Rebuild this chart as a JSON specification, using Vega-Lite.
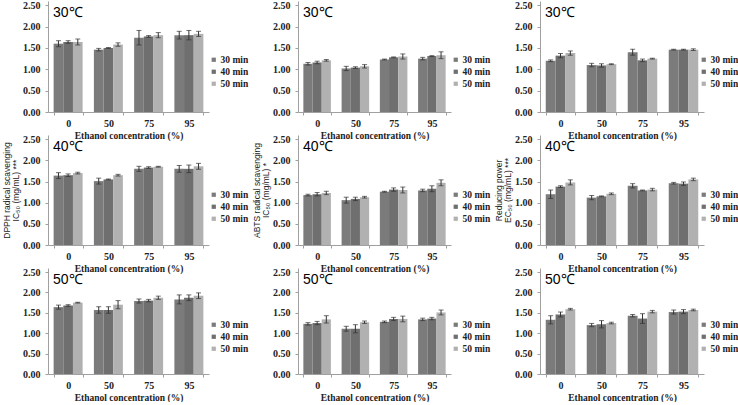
{
"$schema": "https://vega.github.io/schema/vega-lite/v6.json",
"padding": {"left": 2, "top": 0, "right": 0, "bottom": 0},
"bounds": "flush",
"columns": 3,
"spacing": {"row": 23, "column": 89},
"datasets": {"d": [
{"assay":"DPPH","temp":30,"conc":"0","time":"30 min","mean":1.60,"lo":1.53,"hi":1.67},
{"assay":"DPPH","temp":30,"conc":"0","time":"40 min","mean":1.64,"lo":1.61,"hi":1.67},
{"assay":"DPPH","temp":30,"conc":"0","time":"50 min","mean":1.64,"lo":1.57,"hi":1.71},
{"assay":"DPPH","temp":30,"conc":"50","time":"30 min","mean":1.46,"lo":1.43,"hi":1.49},
{"assay":"DPPH","temp":30,"conc":"50","time":"40 min","mean":1.50,"lo":1.49,"hi":1.51},
{"assay":"DPPH","temp":30,"conc":"50","time":"50 min","mean":1.58,"lo":1.54,"hi":1.62},
{"assay":"DPPH","temp":30,"conc":"75","time":"30 min","mean":1.74,"lo":1.57,"hi":1.91},
{"assay":"DPPH","temp":30,"conc":"75","time":"40 min","mean":1.77,"lo":1.75,"hi":1.79},
{"assay":"DPPH","temp":30,"conc":"75","time":"50 min","mean":1.80,"lo":1.74,"hi":1.86},
{"assay":"DPPH","temp":30,"conc":"95","time":"30 min","mean":1.80,"lo":1.71,"hi":1.89},
{"assay":"DPPH","temp":30,"conc":"95","time":"40 min","mean":1.80,"lo":1.69,"hi":1.91},
{"assay":"DPPH","temp":30,"conc":"95","time":"50 min","mean":1.83,"lo":1.77,"hi":1.89},
{"assay":"DPPH","temp":40,"conc":"0","time":"30 min","mean":1.64,"lo":1.57,"hi":1.71},
{"assay":"DPPH","temp":40,"conc":"0","time":"40 min","mean":1.65,"lo":1.62,"hi":1.68},
{"assay":"DPPH","temp":40,"conc":"0","time":"50 min","mean":1.70,"lo":1.68,"hi":1.72},
{"assay":"DPPH","temp":40,"conc":"50","time":"30 min","mean":1.51,"lo":1.44,"hi":1.58},
{"assay":"DPPH","temp":40,"conc":"50","time":"40 min","mean":1.55,"lo":1.54,"hi":1.56},
{"assay":"DPPH","temp":40,"conc":"50","time":"50 min","mean":1.65,"lo":1.63,"hi":1.67},
{"assay":"DPPH","temp":40,"conc":"75","time":"30 min","mean":1.80,"lo":1.74,"hi":1.86},
{"assay":"DPPH","temp":40,"conc":"75","time":"40 min","mean":1.83,"lo":1.81,"hi":1.85},
{"assay":"DPPH","temp":40,"conc":"75","time":"50 min","mean":1.85,"lo":1.84,"hi":1.86},
{"assay":"DPPH","temp":40,"conc":"95","time":"30 min","mean":1.80,"lo":1.72,"hi":1.88},
{"assay":"DPPH","temp":40,"conc":"95","time":"40 min","mean":1.80,"lo":1.71,"hi":1.89},
{"assay":"DPPH","temp":40,"conc":"95","time":"50 min","mean":1.86,"lo":1.79,"hi":1.93},
{"assay":"DPPH","temp":50,"conc":"0","time":"30 min","mean":1.64,"lo":1.59,"hi":1.69},
{"assay":"DPPH","temp":50,"conc":"0","time":"40 min","mean":1.68,"lo":1.66,"hi":1.70},
{"assay":"DPPH","temp":50,"conc":"0","time":"50 min","mean":1.75,"lo":1.74,"hi":1.76},
{"assay":"DPPH","temp":50,"conc":"50","time":"30 min","mean":1.57,"lo":1.49,"hi":1.65},
{"assay":"DPPH","temp":50,"conc":"50","time":"40 min","mean":1.57,"lo":1.49,"hi":1.65},
{"assay":"DPPH","temp":50,"conc":"50","time":"50 min","mean":1.70,"lo":1.60,"hi":1.80},
{"assay":"DPPH","temp":50,"conc":"75","time":"30 min","mean":1.79,"lo":1.74,"hi":1.84},
{"assay":"DPPH","temp":50,"conc":"75","time":"40 min","mean":1.80,"lo":1.77,"hi":1.83},
{"assay":"DPPH","temp":50,"conc":"75","time":"50 min","mean":1.87,"lo":1.83,"hi":1.91},
{"assay":"DPPH","temp":50,"conc":"95","time":"30 min","mean":1.83,"lo":1.72,"hi":1.94},
{"assay":"DPPH","temp":50,"conc":"95","time":"40 min","mean":1.87,"lo":1.80,"hi":1.94},
{"assay":"DPPH","temp":50,"conc":"95","time":"50 min","mean":1.92,"lo":1.85,"hi":1.99},
{"assay":"ABTS","temp":30,"conc":"0","time":"30 min","mean":1.13,"lo":1.10,"hi":1.16},
{"assay":"ABTS","temp":30,"conc":"0","time":"40 min","mean":1.16,"lo":1.13,"hi":1.19},
{"assay":"ABTS","temp":30,"conc":"0","time":"50 min","mean":1.21,"lo":1.19,"hi":1.23},
{"assay":"ABTS","temp":30,"conc":"50","time":"30 min","mean":1.02,"lo":0.97,"hi":1.07},
{"assay":"ABTS","temp":30,"conc":"50","time":"40 min","mean":1.04,"lo":1.02,"hi":1.06},
{"assay":"ABTS","temp":30,"conc":"50","time":"50 min","mean":1.07,"lo":1.03,"hi":1.11},
{"assay":"ABTS","temp":30,"conc":"75","time":"30 min","mean":1.23,"lo":1.22,"hi":1.24},
{"assay":"ABTS","temp":30,"conc":"75","time":"40 min","mean":1.28,"lo":1.27,"hi":1.29},
{"assay":"ABTS","temp":30,"conc":"75","time":"50 min","mean":1.30,"lo":1.24,"hi":1.36},
{"assay":"ABTS","temp":30,"conc":"95","time":"30 min","mean":1.25,"lo":1.22,"hi":1.28},
{"assay":"ABTS","temp":30,"conc":"95","time":"40 min","mean":1.31,"lo":1.30,"hi":1.32},
{"assay":"ABTS","temp":30,"conc":"95","time":"50 min","mean":1.33,"lo":1.25,"hi":1.41},
{"assay":"ABTS","temp":40,"conc":"0","time":"30 min","mean":1.18,"lo":1.16,"hi":1.20},
{"assay":"ABTS","temp":40,"conc":"0","time":"40 min","mean":1.20,"lo":1.16,"hi":1.24},
{"assay":"ABTS","temp":40,"conc":"0","time":"50 min","mean":1.23,"lo":1.19,"hi":1.27},
{"assay":"ABTS","temp":40,"conc":"50","time":"30 min","mean":1.06,"lo":0.99,"hi":1.13},
{"assay":"ABTS","temp":40,"conc":"50","time":"40 min","mean":1.09,"lo":1.05,"hi":1.13},
{"assay":"ABTS","temp":40,"conc":"50","time":"50 min","mean":1.13,"lo":1.11,"hi":1.15},
{"assay":"ABTS","temp":40,"conc":"75","time":"30 min","mean":1.26,"lo":1.25,"hi":1.27},
{"assay":"ABTS","temp":40,"conc":"75","time":"40 min","mean":1.31,"lo":1.27,"hi":1.35},
{"assay":"ABTS","temp":40,"conc":"75","time":"50 min","mean":1.30,"lo":1.23,"hi":1.37},
{"assay":"ABTS","temp":40,"conc":"95","time":"30 min","mean":1.29,"lo":1.26,"hi":1.32},
{"assay":"ABTS","temp":40,"conc":"95","time":"40 min","mean":1.33,"lo":1.26,"hi":1.40},
{"assay":"ABTS","temp":40,"conc":"95","time":"50 min","mean":1.47,"lo":1.40,"hi":1.54},
{"assay":"ABTS","temp":50,"conc":"0","time":"30 min","mean":1.23,"lo":1.20,"hi":1.26},
{"assay":"ABTS","temp":50,"conc":"0","time":"40 min","mean":1.25,"lo":1.21,"hi":1.29},
{"assay":"ABTS","temp":50,"conc":"0","time":"50 min","mean":1.34,"lo":1.25,"hi":1.43},
{"assay":"ABTS","temp":50,"conc":"50","time":"30 min","mean":1.11,"lo":1.05,"hi":1.17},
{"assay":"ABTS","temp":50,"conc":"50","time":"40 min","mean":1.11,"lo":1.01,"hi":1.21},
{"assay":"ABTS","temp":50,"conc":"50","time":"50 min","mean":1.27,"lo":1.24,"hi":1.30},
{"assay":"ABTS","temp":50,"conc":"75","time":"30 min","mean":1.28,"lo":1.26,"hi":1.30},
{"assay":"ABTS","temp":50,"conc":"75","time":"40 min","mean":1.35,"lo":1.31,"hi":1.39},
{"assay":"ABTS","temp":50,"conc":"75","time":"50 min","mean":1.35,"lo":1.28,"hi":1.42},
{"assay":"ABTS","temp":50,"conc":"95","time":"30 min","mean":1.34,"lo":1.31,"hi":1.37},
{"assay":"ABTS","temp":50,"conc":"95","time":"40 min","mean":1.36,"lo":1.33,"hi":1.39},
{"assay":"ABTS","temp":50,"conc":"95","time":"50 min","mean":1.51,"lo":1.45,"hi":1.57},
{"assay":"RP","temp":30,"conc":"0","time":"30 min","mean":1.20,"lo":1.18,"hi":1.22},
{"assay":"RP","temp":30,"conc":"0","time":"40 min","mean":1.32,"lo":1.27,"hi":1.37},
{"assay":"RP","temp":30,"conc":"0","time":"50 min","mean":1.38,"lo":1.33,"hi":1.43},
{"assay":"RP","temp":30,"conc":"50","time":"30 min","mean":1.10,"lo":1.06,"hi":1.14},
{"assay":"RP","temp":30,"conc":"50","time":"40 min","mean":1.09,"lo":1.05,"hi":1.13},
{"assay":"RP","temp":30,"conc":"50","time":"50 min","mean":1.12,"lo":1.11,"hi":1.13},
{"assay":"RP","temp":30,"conc":"75","time":"30 min","mean":1.40,"lo":1.33,"hi":1.47},
{"assay":"RP","temp":30,"conc":"75","time":"40 min","mean":1.21,"lo":1.18,"hi":1.24},
{"assay":"RP","temp":30,"conc":"75","time":"50 min","mean":1.25,"lo":1.24,"hi":1.26},
{"assay":"RP","temp":30,"conc":"95","time":"30 min","mean":1.46,"lo":1.45,"hi":1.47},
{"assay":"RP","temp":30,"conc":"95","time":"40 min","mean":1.46,"lo":1.45,"hi":1.47},
{"assay":"RP","temp":30,"conc":"95","time":"50 min","mean":1.46,"lo":1.44,"hi":1.48},
{"assay":"RP","temp":40,"conc":"0","time":"30 min","mean":1.20,"lo":1.10,"hi":1.30},
{"assay":"RP","temp":40,"conc":"0","time":"40 min","mean":1.38,"lo":1.36,"hi":1.40},
{"assay":"RP","temp":40,"conc":"0","time":"50 min","mean":1.48,"lo":1.42,"hi":1.54},
{"assay":"RP","temp":40,"conc":"50","time":"30 min","mean":1.12,"lo":1.07,"hi":1.17},
{"assay":"RP","temp":40,"conc":"50","time":"40 min","mean":1.15,"lo":1.14,"hi":1.16},
{"assay":"RP","temp":40,"conc":"50","time":"50 min","mean":1.21,"lo":1.19,"hi":1.23},
{"assay":"RP","temp":40,"conc":"75","time":"30 min","mean":1.40,"lo":1.35,"hi":1.45},
{"assay":"RP","temp":40,"conc":"75","time":"40 min","mean":1.29,"lo":1.28,"hi":1.30},
{"assay":"RP","temp":40,"conc":"75","time":"50 min","mean":1.31,"lo":1.28,"hi":1.34},
{"assay":"RP","temp":40,"conc":"95","time":"30 min","mean":1.46,"lo":1.44,"hi":1.48},
{"assay":"RP","temp":40,"conc":"95","time":"40 min","mean":1.45,"lo":1.41,"hi":1.49},
{"assay":"RP","temp":40,"conc":"95","time":"50 min","mean":1.55,"lo":1.52,"hi":1.58},
{"assay":"RP","temp":50,"conc":"0","time":"30 min","mean":1.33,"lo":1.23,"hi":1.43},
{"assay":"RP","temp":50,"conc":"0","time":"40 min","mean":1.46,"lo":1.40,"hi":1.52},
{"assay":"RP","temp":50,"conc":"0","time":"50 min","mean":1.59,"lo":1.57,"hi":1.61},
{"assay":"RP","temp":50,"conc":"50","time":"30 min","mean":1.20,"lo":1.16,"hi":1.24},
{"assay":"RP","temp":50,"conc":"50","time":"40 min","mean":1.22,"lo":1.13,"hi":1.31},
{"assay":"RP","temp":50,"conc":"50","time":"50 min","mean":1.25,"lo":1.23,"hi":1.27},
{"assay":"RP","temp":50,"conc":"75","time":"30 min","mean":1.43,"lo":1.40,"hi":1.46},
{"assay":"RP","temp":50,"conc":"75","time":"40 min","mean":1.36,"lo":1.24,"hi":1.48},
{"assay":"RP","temp":50,"conc":"75","time":"50 min","mean":1.53,"lo":1.50,"hi":1.56},
{"assay":"RP","temp":50,"conc":"95","time":"30 min","mean":1.52,"lo":1.47,"hi":1.57},
{"assay":"RP","temp":50,"conc":"95","time":"40 min","mean":1.53,"lo":1.48,"hi":1.58},
{"assay":"RP","temp":50,"conc":"95","time":"50 min","mean":1.57,"lo":1.55,"hi":1.59}
]},
"data": {"name": "d"},
"resolve": {"scale": {"x": "independent", "y": "independent", "color": "independent", "xOffset": "independent"}, "axis": {"x": "independent", "y": "independent"}, "legend": {"color": "independent"}},
"concat": [
  {"width": 161, "height": 111, "title": "30℃", "transform": [{"filter": "datum.assay=='DPPH' && datum.temp==30"}],
   "encoding": {"x": {"field": "conc", "type": "ordinal", "sort": ["0","50","75","95"], "scale": {"paddingInner": 0.28, "paddingOuter": 0.14}, "axis": {"title": "Ethanol concentration (%)"}}, "xOffset": {"field": "time", "type": "nominal", "scale": {"paddingInner": 0}}},
   "layer": [
    {"mark": "bar", "encoding": {"y": {"field": "mean", "type": "quantitative", "scale": {"domain": [0, 2.5]}, "axis": {"title": null}}, "color": {"field": "time", "type": "nominal", "scale": {"domain": ["30 min","40 min","50 min"], "range": ["#7b7b7b","#6f6f6f","#b1b1b1"]}, "legend": {"orient": "none", "legendX": 161, "legendY": 54}}}},
    {"mark": {"type": "rule", "color": "#333"}, "encoding": {"y": {"field": "lo", "type": "quantitative"}, "y2": {"field": "hi"}}},
    {"mark": {"type": "tick", "color": "#333", "size": 5, "thickness": 1}, "encoding": {"y": {"field": "lo", "type": "quantitative"}}},
    {"mark": {"type": "tick", "color": "#333", "size": 5, "thickness": 1}, "encoding": {"y": {"field": "hi", "type": "quantitative"}}}
   ]},
  {"width": 153, "height": 111, "title": "30℃", "transform": [{"filter": "datum.assay=='ABTS' && datum.temp==30"}],
   "encoding": {"x": {"field": "conc", "type": "ordinal", "sort": ["0","50","75","95"], "scale": {"paddingInner": 0.28, "paddingOuter": 0.14}, "axis": {"title": "Ethanol concentration (%)"}}, "xOffset": {"field": "time", "type": "nominal", "scale": {"paddingInner": 0}}},
   "layer": [
    {"mark": "bar", "encoding": {"y": {"field": "mean", "type": "quantitative", "scale": {"domain": [0, 2.5]}, "axis": {"title": null}}, "color": {"field": "time", "type": "nominal", "scale": {"domain": ["30 min","40 min","50 min"], "range": ["#7b7b7b","#6f6f6f","#b1b1b1"]}, "legend": {"orient": "none", "legendX": 153, "legendY": 54}}}},
    {"mark": {"type": "rule", "color": "#333"}, "encoding": {"y": {"field": "lo", "type": "quantitative"}, "y2": {"field": "hi"}}},
    {"mark": {"type": "tick", "color": "#333", "size": 5, "thickness": 1}, "encoding": {"y": {"field": "lo", "type": "quantitative"}}},
    {"mark": {"type": "tick", "color": "#333", "size": 5, "thickness": 1}, "encoding": {"y": {"field": "hi", "type": "quantitative"}}}
   ]},
  {"width": 164, "height": 111, "title": "30℃", "transform": [{"filter": "datum.assay=='RP' && datum.temp==30"}],
   "encoding": {"x": {"field": "conc", "type": "ordinal", "sort": ["0","50","75","95"], "scale": {"paddingInner": 0.28, "paddingOuter": 0.14}, "axis": {"title": "Ethanol concentration (%)"}}, "xOffset": {"field": "time", "type": "nominal", "scale": {"paddingInner": 0}}},
   "layer": [
    {"mark": "bar", "encoding": {"y": {"field": "mean", "type": "quantitative", "scale": {"domain": [0, 2.5]}, "axis": {"title": null}}, "color": {"field": "time", "type": "nominal", "scale": {"domain": ["30 min","40 min","50 min"], "range": ["#7b7b7b","#6f6f6f","#b1b1b1"]}, "legend": {"orient": "none", "legendX": 159, "legendY": 54}}}},
    {"mark": {"type": "rule", "color": "#333"}, "encoding": {"y": {"field": "lo", "type": "quantitative"}, "y2": {"field": "hi"}}},
    {"mark": {"type": "tick", "color": "#333", "size": 5, "thickness": 1}, "encoding": {"y": {"field": "lo", "type": "quantitative"}}},
    {"mark": {"type": "tick", "color": "#333", "size": 5, "thickness": 1}, "encoding": {"y": {"field": "hi", "type": "quantitative"}}}
   ]},
  {"width": 161, "height": 110, "title": "40℃", "transform": [{"filter": "datum.assay=='DPPH' && datum.temp==40"}],
   "encoding": {"x": {"field": "conc", "type": "ordinal", "sort": ["0","50","75","95"], "scale": {"paddingInner": 0.28, "paddingOuter": 0.14}, "axis": {"title": "Ethanol concentration (%)"}}, "xOffset": {"field": "time", "type": "nominal", "scale": {"paddingInner": 0}}},
   "layer": [
    {"mark": "bar", "encoding": {"y": {"field": "mean", "type": "quantitative", "scale": {"domain": [0, 2.5]}, "axis": {"title": ["DPPH radical scavenging", "IC₅₀ (mg/mL) ***"]}}, "color": {"field": "time", "type": "nominal", "scale": {"domain": ["30 min","40 min","50 min"], "range": ["#7b7b7b","#6f6f6f","#b1b1b1"]}, "legend": {"orient": "none", "legendX": 161, "legendY": 55}}}},
    {"mark": {"type": "rule", "color": "#333"}, "encoding": {"y": {"field": "lo", "type": "quantitative"}, "y2": {"field": "hi"}}},
    {"mark": {"type": "tick", "color": "#333", "size": 5, "thickness": 1}, "encoding": {"y": {"field": "lo", "type": "quantitative"}}},
    {"mark": {"type": "tick", "color": "#333", "size": 5, "thickness": 1}, "encoding": {"y": {"field": "hi", "type": "quantitative"}}}
   ]},
  {"width": 153, "height": 110, "title": "40℃", "transform": [{"filter": "datum.assay=='ABTS' && datum.temp==40"}],
   "encoding": {"x": {"field": "conc", "type": "ordinal", "sort": ["0","50","75","95"], "scale": {"paddingInner": 0.28, "paddingOuter": 0.14}, "axis": {"title": "Ethanol concentration (%)"}}, "xOffset": {"field": "time", "type": "nominal", "scale": {"paddingInner": 0}}},
   "layer": [
    {"mark": "bar", "encoding": {"y": {"field": "mean", "type": "quantitative", "scale": {"domain": [0, 2.5]}, "axis": {"title": ["ABTS radical scavenging", "IC₅₀ (mg/mL) *"]}}, "color": {"field": "time", "type": "nominal", "scale": {"domain": ["30 min","40 min","50 min"], "range": ["#7b7b7b","#6f6f6f","#b1b1b1"]}, "legend": {"orient": "none", "legendX": 153, "legendY": 55}}}},
    {"mark": {"type": "rule", "color": "#333"}, "encoding": {"y": {"field": "lo", "type": "quantitative"}, "y2": {"field": "hi"}}},
    {"mark": {"type": "tick", "color": "#333", "size": 5, "thickness": 1}, "encoding": {"y": {"field": "lo", "type": "quantitative"}}},
    {"mark": {"type": "tick", "color": "#333", "size": 5, "thickness": 1}, "encoding": {"y": {"field": "hi", "type": "quantitative"}}}
   ]},
  {"width": 164, "height": 110, "title": "40℃", "transform": [{"filter": "datum.assay=='RP' && datum.temp==40"}],
   "encoding": {"x": {"field": "conc", "type": "ordinal", "sort": ["0","50","75","95"], "scale": {"paddingInner": 0.28, "paddingOuter": 0.14}, "axis": {"title": "Ethanol concentration (%)"}}, "xOffset": {"field": "time", "type": "nominal", "scale": {"paddingInner": 0}}},
   "layer": [
    {"mark": "bar", "encoding": {"y": {"field": "mean", "type": "quantitative", "scale": {"domain": [0, 2.5]}, "axis": {"title": ["Reducing power", "EC₅₀ (mg/mL) ***"]}}, "color": {"field": "time", "type": "nominal", "scale": {"domain": ["30 min","40 min","50 min"], "range": ["#7b7b7b","#6f6f6f","#b1b1b1"]}, "legend": {"orient": "none", "legendX": 159, "legendY": 55}}}},
    {"mark": {"type": "rule", "color": "#333"}, "encoding": {"y": {"field": "lo", "type": "quantitative"}, "y2": {"field": "hi"}}},
    {"mark": {"type": "tick", "color": "#333", "size": 5, "thickness": 1}, "encoding": {"y": {"field": "lo", "type": "quantitative"}}},
    {"mark": {"type": "tick", "color": "#333", "size": 5, "thickness": 1}, "encoding": {"y": {"field": "hi", "type": "quantitative"}}}
   ]},
  {"width": 161, "height": 106, "title": "50℃", "transform": [{"filter": "datum.assay=='DPPH' && datum.temp==50"}],
   "encoding": {"x": {"field": "conc", "type": "ordinal", "sort": ["0","50","75","95"], "scale": {"paddingInner": 0.28, "paddingOuter": 0.14}, "axis": {"title": "Ethanol concentration (%)"}}, "xOffset": {"field": "time", "type": "nominal", "scale": {"paddingInner": 0}}},
   "layer": [
    {"mark": "bar", "encoding": {"y": {"field": "mean", "type": "quantitative", "scale": {"domain": [0, 2.5]}, "axis": {"title": null}}, "color": {"field": "time", "type": "nominal", "scale": {"domain": ["30 min","40 min","50 min"], "range": ["#7b7b7b","#6f6f6f","#b1b1b1"]}, "legend": {"orient": "none", "legendX": 161, "legendY": 52}}}},
    {"mark": {"type": "rule", "color": "#333"}, "encoding": {"y": {"field": "lo", "type": "quantitative"}, "y2": {"field": "hi"}}},
    {"mark": {"type": "tick", "color": "#333", "size": 5, "thickness": 1}, "encoding": {"y": {"field": "lo", "type": "quantitative"}}},
    {"mark": {"type": "tick", "color": "#333", "size": 5, "thickness": 1}, "encoding": {"y": {"field": "hi", "type": "quantitative"}}}
   ]},
  {"width": 153, "height": 106, "title": "50℃", "transform": [{"filter": "datum.assay=='ABTS' && datum.temp==50"}],
   "encoding": {"x": {"field": "conc", "type": "ordinal", "sort": ["0","50","75","95"], "scale": {"paddingInner": 0.28, "paddingOuter": 0.14}, "axis": {"title": "Ethanol concentration (%)"}}, "xOffset": {"field": "time", "type": "nominal", "scale": {"paddingInner": 0}}},
   "layer": [
    {"mark": "bar", "encoding": {"y": {"field": "mean", "type": "quantitative", "scale": {"domain": [0, 2.5]}, "axis": {"title": null}}, "color": {"field": "time", "type": "nominal", "scale": {"domain": ["30 min","40 min","50 min"], "range": ["#7b7b7b","#6f6f6f","#b1b1b1"]}, "legend": {"orient": "none", "legendX": 153, "legendY": 52}}}},
    {"mark": {"type": "rule", "color": "#333"}, "encoding": {"y": {"field": "lo", "type": "quantitative"}, "y2": {"field": "hi"}}},
    {"mark": {"type": "tick", "color": "#333", "size": 5, "thickness": 1}, "encoding": {"y": {"field": "lo", "type": "quantitative"}}},
    {"mark": {"type": "tick", "color": "#333", "size": 5, "thickness": 1}, "encoding": {"y": {"field": "hi", "type": "quantitative"}}}
   ]},
  {"width": 164, "height": 106, "title": "50℃", "transform": [{"filter": "datum.assay=='RP' && datum.temp==50"}],
   "encoding": {"x": {"field": "conc", "type": "ordinal", "sort": ["0","50","75","95"], "scale": {"paddingInner": 0.28, "paddingOuter": 0.14}, "axis": {"title": "Ethanol concentration (%)"}}, "xOffset": {"field": "time", "type": "nominal", "scale": {"paddingInner": 0}}},
   "layer": [
    {"mark": "bar", "encoding": {"y": {"field": "mean", "type": "quantitative", "scale": {"domain": [0, 2.5]}, "axis": {"title": null}}, "color": {"field": "time", "type": "nominal", "scale": {"domain": ["30 min","40 min","50 min"], "range": ["#7b7b7b","#6f6f6f","#b1b1b1"]}, "legend": {"orient": "none", "legendX": 159, "legendY": 52}}}},
    {"mark": {"type": "rule", "color": "#333"}, "encoding": {"y": {"field": "lo", "type": "quantitative"}, "y2": {"field": "hi"}}},
    {"mark": {"type": "tick", "color": "#333", "size": 5, "thickness": 1}, "encoding": {"y": {"field": "lo", "type": "quantitative"}}},
    {"mark": {"type": "tick", "color": "#333", "size": 5, "thickness": 1}, "encoding": {"y": {"field": "hi", "type": "quantitative"}}}
   ]}
],
"config": {
 "view": {"stroke": null},
 "background": "white",
 "axis": {"grid": false, "domainColor": "#a0a0a0", "tickColor": "#a0a0a0", "tickSize": 3, "labelFont": "'Liberation Serif', serif", "labelFontWeight": "bold", "labelColor": "#222", "labelFontSize": 10, "labelOverlap": false, "labelFlush": false, "titleFont": "'Liberation Serif', serif", "titleFontWeight": "bold", "titleFontSize": 9.5, "titleColor": "#222"},
 "axisX": {"labelAngle": 0, "tickBand": "extent", "labelPadding": 3, "titlePadding": 2, "labelFontSize": 10},
 "axisY": {"tickCount": 6, "format": ".2f", "labelPadding": 5, "titleFont": "'Liberation Sans', sans-serif", "titleFontWeight": "normal", "titleFontSize": 8.5, "titlePadding": 2, "titleLineHeight": 9},
 "legend": {"title": null, "symbolType": "square", "symbolSize": 18, "symbolStrokeWidth": 0, "labelFont": "'Liberation Serif', serif", "labelFontWeight": "bold", "labelFontSize": 9.5, "labelColor": "#222", "rowPadding": 1, "labelOffset": 2},
 "title": {"anchor": "start", "frame": "group", "font": "'Liberation Sans', sans-serif", "fontSize": 14, "fontWeight": "normal", "color": "#000", "offset": -20, "dx": 5, "baseline": "alphabetic"}
}
}
